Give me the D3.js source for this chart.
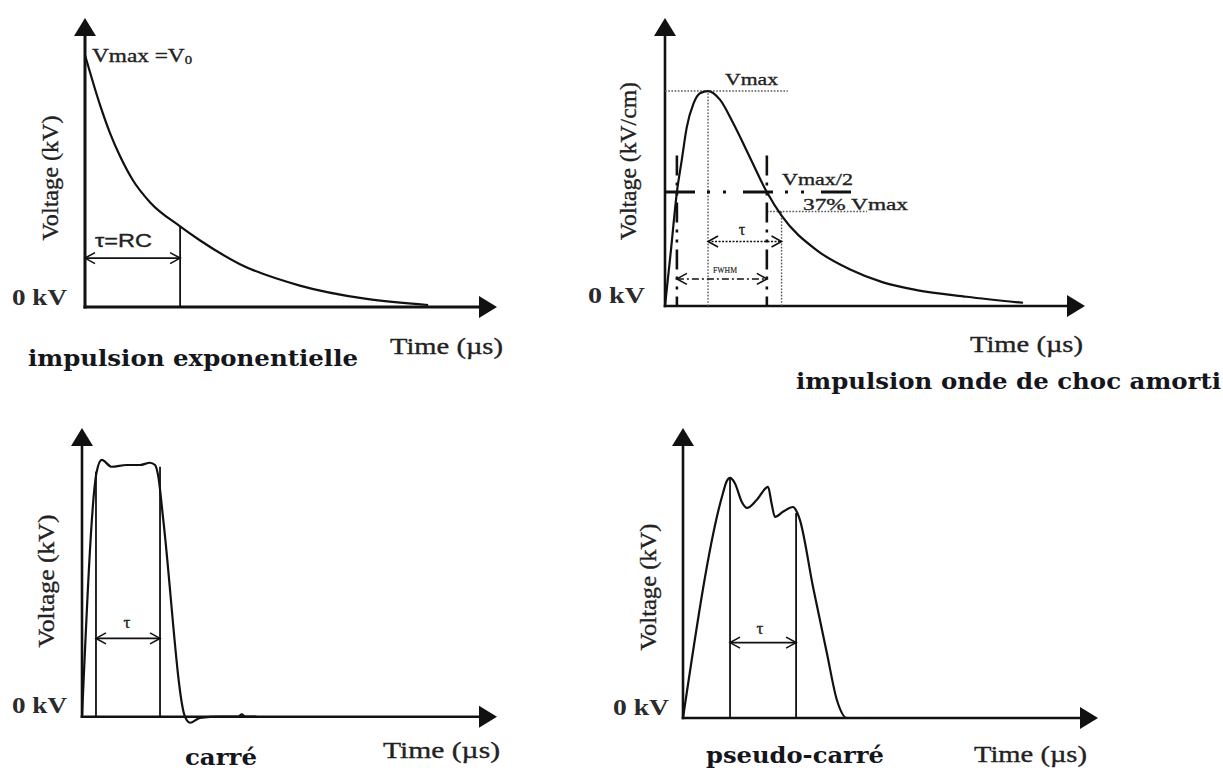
<!DOCTYPE html>
<html lang="fr">
<head>
<meta charset="utf-8">
<script src="https://cdn.jsdelivr.net/npm/d3@7"></script>
<style>
  body { margin: 0; background: #fff; }
  text { font-family: "Liberation Serif", "Times New Roman", serif; fill: #222; stroke: #222; stroke-width: 0.35; }
  .title { font-family: "DejaVu Serif", serif; font-weight: bold; fill: #15151c; stroke: none; }
  .bold { font-weight: bold; fill: #2b2b2b; stroke: none; }
  .sans { font-family: "Liberation Sans", Arial, sans-serif; }
</style>
</head>
<body>
<svg id="chart" width="1223" height="772"></svg>
<script>

// impulsion exponentielle (t in us, V normalised to Vmax)
var expT = [0, 0.37, 0.61, 0.85, 1.18, 1.59, 2.32, 2.80, 3.78, 5.24, 6.87, 8.37];
var expV = [1, 0.80, 0.69, 0.60, 0.50, 0.415, 0.32, 0.265, 0.17, 0.085, 0.032, 0.008];
var expTau = 2.32;

// impulsion onde de choc amortie
var shockT = [0, 0.17, 0.34, 0.48, 0.62, 0.81, 1.0, 1.23, 1.57, 1.95, 2.43, 2.91, 3.33, 4.33, 5.29, 6.23, 7.19, 8.62, 10.23];
var shockV = [0, 0.26, 0.53, 0.68, 0.83, 0.94, 0.99, 1.0, 0.96, 0.85, 0.69, 0.53, 0.42, 0.26, 0.17, 0.11, 0.074, 0.043, 0.015];
var shockPeak = 1.23, shockHalfL = 0.34, shockHalfR = 2.91, shockTau = 3.33;
var shockHalf = 0.53, shock37 = 0.44;

// carre
var sqT = [0, 0.354, 0.475, 0.716, 1.077, 1.398, 1.639, 1.759, 1.839, 1.959, 2.482, 2.602, 2.843, 3.33, 3.76, 3.85, 3.93, 4.2];
var sqV = [0, 0.973, 1.02, 0.993, 1.0, 1.0, 1.009, 1.0, 0.954, 0.781, 0, -0.024, -0.005, 0, 0, 0.009, 0, 0];
var sqTauL = 0.337, sqTauR = 1.88;

// pseudo-carre
var psT = [0, 1.157, 1.26, 1.36, 1.50, 1.70, 1.85, 2.13, 2.46, 2.56, 2.66, 2.90, 3.18, 3.31, 3.38, 3.76, 4.16, 4.45, 4.74, 5.4];
var psV = [0, 0.9375, 0.985, 1.0, 0.978, 0.90, 0.875, 0.908, 0.9625, 0.895, 0.8375, 0.86, 0.879, 0.853, 0.825, 0.546, 0.271, 0.075, 0, 0];
var psTauL = 1.36, psTauR = 3.27;

var svg = d3.select("#chart");
var ink = "#111";

var defs = svg.append("defs");
defs.append("marker")
    .attr("id", "chev")
    .attr("viewBox", "-12 -7 14 14")
    .attr("markerWidth", 14).attr("markerHeight", 14)
    .attr("markerUnits", "userSpaceOnUse")
    .attr("refX", 0).attr("refY", 0)
    .attr("orient", "auto-start-reverse")
  .append("path")
    .attr("d", "M-10,-5.5L0,0L-10,5.5")
    .attr("fill", "none").attr("stroke", ink).attr("stroke-width", 1.6);

function axes(x, y, w){
  var g = svg.append("g");
  var xm = x.domain()[1], ym = y.domain()[1];
  var ox = x(0), oy = y(0), tx = x(xm), ty = y(ym);
  g.append("line").attr("x1", ox).attr("y1", oy + w/2).attr("x2", ox).attr("y2", ty + 10)
    .attr("stroke", ink).attr("stroke-width", w);
  g.append("line").attr("x1", ox - w/2).attr("y1", oy).attr("x2", tx - 10).attr("y2", oy)
    .attr("stroke", ink).attr("stroke-width", w);
  g.append("path").attr("fill", ink)
    .attr("d", "M" + (ox - 11) + "," + (ty + 18) + "L" + ox + "," + ty + "L" + (ox + 11) + "," + (ty + 18) + "Z");
  g.append("path").attr("fill", ink)
    .attr("d", "M" + (tx - 18) + "," + (oy - 11) + "L" + tx + "," + oy + "L" + (tx - 18) + "," + (oy + 11) + "Z");
  return g;
}

function curve(x, y, T, V, w){
  var pts = T.map(function(t, i){ return [t, V[i]]; });
  svg.append("path")
    .datum(pts)
    .attr("fill", "none").attr("stroke", ink).attr("stroke-width", w)
    .attr("stroke-linejoin", "round")
    .attr("d", d3.line().x(function(d){ return x(d[0]); }).y(function(d){ return y(d[1]); })
      .curve(d3.curveMonotoneX));
}

function seg(x, y, t1, v1, t2, v2, w, dash, col){
  return svg.append("line")
    .attr("x1", x(t1)).attr("y1", y(v1)).attr("x2", x(t2)).attr("y2", y(v2))
    .attr("stroke", col || ink).attr("stroke-width", w)
    .attr("stroke-dasharray", dash || null);
}

function txt(s, px, py, size, len, cls, anchor){
  var t = svg.append("text").attr("x", px).attr("y", py)
    .attr("font-size", size).text(s);
  if (cls) t.attr("class", cls);
  if (anchor) t.attr("text-anchor", anchor);
  if (len) t.attr("textLength", len).attr("lengthAdjust", "spacingAndGlyphs");
  return t;
}

function vlabel(s, px, py, len){
  svg.append("text")
    .attr("transform", "translate(" + px + "," + py + ") rotate(-90)")
    .attr("text-anchor", "middle").attr("font-size", 24)
    .attr("textLength", len).attr("lengthAdjust", "spacingAndGlyphs")
    .text(s);
}

// ---- panel 1 : exponentielle
var x1 = d3.scaleLinear().domain([0, 10.05]).range([85, 497]);
var y1 = d3.scaleLinear().domain([0, 1.147]).range([307, 18]);
axes(x1, y1, 3);
curve(x1, y1, expT, expV, 2.2);
seg(x1, y1, expTau, 0, expTau, 0.32, 1.8);
seg(x1, y1, 0, 0.194, expTau, 0.194, 1.6).attr("marker-start", "url(#chev)").attr("marker-end", "url(#chev)");
var vm = txt("Vmax =V", 92, 62, 19, null);
vm.append("tspan").attr("font-size", 12).attr("dy", 2).text("0");
vm.attr("textLength", 100).attr("lengthAdjust", "spacingAndGlyphs");
txt("\u03c4=RC", 95, 247, 18, 57, "sans");
vlabel("Voltage (kV)", 58, 178, 125);
txt("0 kV", 12, 305, 24, 55, "bold");
txt("Time (\u00b5s)", 390, 354, 24, 113);
txt("impulsion exponentielle", 28, 366, 22, 330, "title");

// ---- panel 2 : onde de choc amortie
var x2 = d3.scaleLinear().domain([0, 12]).range([665, 1085]);
var y2 = d3.scaleLinear().domain([0, 1.34]).range([306, 18]);
axes(x2, y2, 2.6);
var dot = "1.6,1.6", grey = "#555";
seg(x2, y2, 0, 1, 3.51, 1, 1.4, dot, grey);
seg(x2, y2, shockPeak, 0, shockPeak, 1, 1.4, dot, grey);
seg(x2, y2, shockTau, 0, shockTau, shock37, 1.4, dot, grey);
seg(x2, y2, shockHalfR, shock37, 5.77, shock37, 1.4, dot, grey);
seg(x2, y2, 0, shockHalf, 5.51, shockHalf, 3, "30,12,3,13,3,17");
seg(x2, y2, shockHalfL, 0.70, shockHalfL, 0, 2.6, "20,7,3,7,3,7");
seg(x2, y2, shockHalfR, 0.70, shockHalfR, 0, 2.6, "20,7,3,7,3,7");
curve(x2, y2, shockT, shockV, 2.2);
seg(x2, y2, shockPeak, 0.30, shockTau, 0.30, 1.3, "2,1.5").attr("marker-start", "url(#chev)").attr("marker-end", "url(#chev)");
seg(x2, y2, shockHalfL, 0.126, shockHalfR, 0.126, 1.5, "7,3,2,3").attr("marker-start", "url(#chev)").attr("marker-end", "url(#chev)");
txt("Vmax", 725, 85, 17, 53);
txt("Vmax/2", 782, 185, 17, 71);
txt("37% Vmax", 803, 210, 17, 105);
txt("\u03c4", 742, 235, 16, null, null, "middle");
txt("FWHM", 725, 273, 8, 24, null, "middle").style("stroke-width", 0.15);
vlabel("Voltage (kV/cm)", 636, 161, 158);
txt("0 kV", 588, 303, 24, 57, "bold");
txt("Time (\u00b5s)", 970, 352, 24, 113);
txt("impulsion onde de choc amorti", 796, 389, 22, 425, "title");

// ---- panel 3 : carre
var x3 = d3.scaleLinear().domain([0, 10]).range([82, 497]);
var y3 = d3.scaleLinear().domain([0, 1.147]).range([716.7, 428]);
axes(x3, y3, 2.6);
seg(x3, y3, sqTauL, 0, sqTauL, 0.973, 1.8);
seg(x3, y3, sqTauR, 0, sqTauR, 0.993, 1.8);
curve(x3, y3, sqT, sqV, 2.2);
seg(x3, y3, sqTauL, 0.311, sqTauR, 0.311, 1.6).attr("marker-start", "url(#chev)").attr("marker-end", "url(#chev)");
txt("\u03c4", 127, 628, 17, null, null, "middle");
vlabel("Voltage (kV)", 54, 581, 133);
txt("0 kV", 12, 713, 24, 55, "bold");
txt("Time (\u00b5s)", 383, 758, 24, 117);
txt("carr\u00e9", 185, 765, 22, 72, "title");

// ---- panel 4 : pseudo-carre
var x4 = d3.scaleLinear().domain([0, 12]).range([683, 1098]);
var y4 = d3.scaleLinear().domain([0, 1.208]).range([718, 428]);
axes(x4, y4, 2.6);
seg(x4, y4, psTauL, 0, psTauL, 1.0, 1.8);
seg(x4, y4, psTauR, 0, psTauR, 0.854, 1.8);
curve(x4, y4, psT, psV, 2.2);
seg(x4, y4, psTauL, 0.314, psTauR, 0.314, 1.6).attr("marker-start", "url(#chev)").attr("marker-end", "url(#chev)");
txt("\u03c4", 760, 634, 17, null, null, "middle");
vlabel("Voltage (kV)", 656, 587, 127);
txt("0 kV", 613, 715, 24, 56, "bold");
txt("Time (\u00b5s)", 974, 762, 24, 113);
txt("pseudo-carr\u00e9", 706, 763, 22, 178, "title");

</script>
</body>
</html>
